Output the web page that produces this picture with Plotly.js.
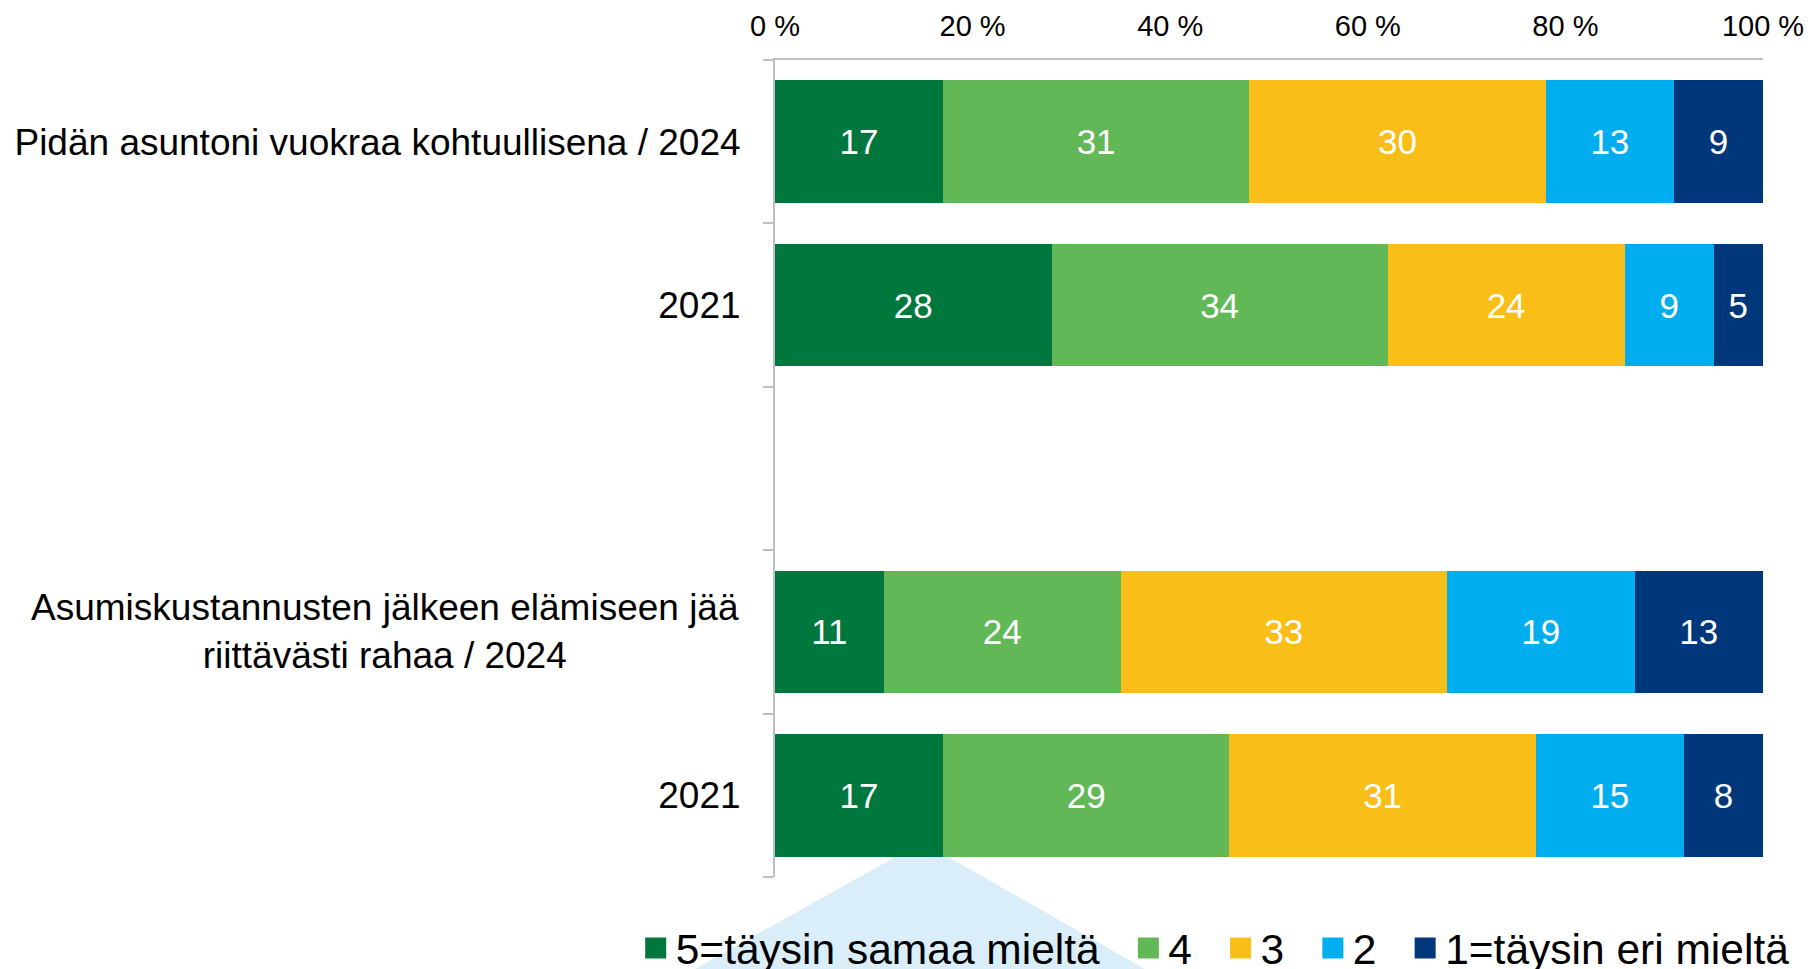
<!DOCTYPE html>
<html>
<head>
<meta charset="utf-8">
<script src="https://cdn.plot.ly/plotly-3.0.1.min.js"></script>
<style>
  html, body { margin: 0; padding: 0; background: #ffffff; }
  #chart { width: 1810px; height: 969px; }
</style>
</head>
<body>
<div id="chart"></div>
<script>
// ---- Data ----
const categoryIds = ['rent2024', 'rent2021', 'gap', 'money2024', 'money2021'];
const categoryLabels = [
  'Pidän asuntoni vuokraa kohtuullisena / 2024',
  '2021',
  '',
  'Asumiskustannusten jälkeen elämiseen jää<br>riittävästi rahaa / 2024',
  '2021'
];
const seriesNames = ['5=täysin samaa mieltä', '4', '3', '2', '1=täysin eri mieltä'];
const values5 = [17, 28, null, 11, 17];
const values4 = [31, 34, null, 24, 29];
const values3 = [30, 24, null, 33, 31];
const values2 = [13, 9, null, 19, 15];
const values1 = [9, 5, null, 13, 8];
const xTickValues = [0, 20, 40, 60, 80, 100];
const xTickLabels = ['0 %', '20 %', '40 %', '60 %', '80 %', '100 %'];

// ---- Styles ----
const seriesColors = ['#00773d', '#62b857', '#f9be17', '#00aeef', '#00367a'];
const FONT = '"Liberation Sans", Arial, Helvetica, sans-serif';
const seriesValues = [values5, values4, values3, values2, values1];
const NBSP2 = '\u00a0\u00a0';

const traces = [];
seriesValues.forEach(function (vals, i) {
  traces.push({
    type: 'bar',
    orientation: 'h',
    name: seriesNames[i],
    x: vals,
    y: categoryIds,
    text: vals.map(function (v) { return v == null ? '' : String(v); }),
    textposition: 'inside',
    insidetextanchor: 'middle',
    constraintext: 'none',
    textangle: 0,
    textfont: { family: FONT, size: 35, color: '#ffffff' },
    marker: { color: seriesColors[i], line: { width: 0 } },
    showlegend: false,
    hoverinfo: 'skip'
  });
});
// legend entries (square swatches)
seriesNames.forEach(function (name, i) {
  traces.push({
    type: 'scatter',
    mode: 'markers',
    name: name + NBSP2,
    x: [null],
    y: [categoryIds[0]],
    marker: { symbol: 'square', size: 16, color: seriesColors[i],
              line: { width: 5, color: seriesColors[i] } },
    showlegend: true,
    hoverinfo: 'skip'
  });
});

// multi-line category labels are drawn centred as annotations
const tickTexts = categoryLabels.map(function (t) { return t.indexOf('<br>') >= 0 ? '' : t; });
const annotations = [];
categoryLabels.forEach(function (t, i) {
  if (t.indexOf('<br>') >= 0) {
    annotations.push({
      xref: 'paper', yref: 'y', x: -0.034, y: categoryIds[i],
      xanchor: 'right', yanchor: 'middle', align: 'center',
      text: t, showarrow: false,
      font: { family: FONT, size: 37, color: '#000000' }
    });
  }
});

const layout = {
  width: 1810,
  height: 969,
  margin: { l: 775, r: 47, t: 60, b: 92, autoexpand: false },
  paper_bgcolor: '#ffffff',
  plot_bgcolor: '#ffffff',
  font: { family: FONT, color: '#000000' },
  barmode: 'stack',
  bargap: 0.25,
  showlegend: true,
  legend: {
    orientation: 'h',
    x: -0.141, xanchor: 'left',
    y: -0.045, yanchor: 'top',
    font: { family: FONT, size: 42.5, color: '#000000' },
    bgcolor: 'rgba(0,0,0,0)',
    traceorder: 'normal'
  },
  xaxis: {
    side: 'top',
    range: [0, 100],
    tickmode: 'array',
    tickvals: xTickValues,
    ticktext: xTickLabels,
    showgrid: false,
    zeroline: false,
    showline: true,
    linecolor: '#bfbfbf',
    linewidth: 2,
    ticks: '',
    ticklabelstandoff: 10,
    tickfont: { family: FONT, size: 29, color: '#000000' },
    fixedrange: true
  },
  yaxis: {
    type: 'category',
    categoryorder: 'array',
    categoryarray: categoryIds,
    range: [4.5, -0.5],
    tickmode: 'array',
    tickvals: categoryIds,
    ticktext: tickTexts,
    tickson: 'boundaries',
    ticks: 'outside',
    ticklen: 10,
    tickwidth: 2,
    tickcolor: '#bfbfbf',
    showline: true,
    linecolor: '#bfbfbf',
    linewidth: 2,
    showgrid: false,
    zeroline: false,
    ticklabelstandoff: 25,
    tickfont: { family: FONT, size: 37, color: '#000000' },
    fixedrange: true
  },
  shapes: [{
    type: 'path',
    xref: 'paper', yref: 'paper',
    path: 'M 0.1488 0.0428 L 0.3850 -0.1200 L -0.0920 -0.1200 Z',
    fillcolor: '#daeefa',
    line: { width: 0 },
    layer: 'below'
  }],
  annotations: annotations
};

Plotly.newPlot('chart', traces, layout, { displayModeBar: false, staticPlot: true });
</script>
</body>
</html>
